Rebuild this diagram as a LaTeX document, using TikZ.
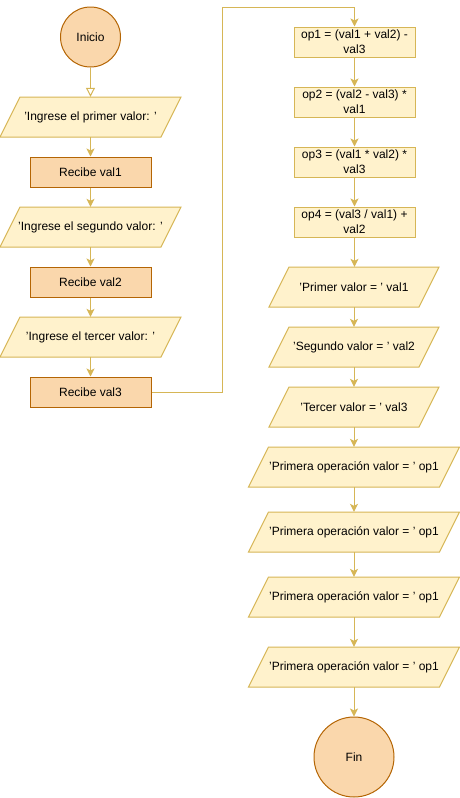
\documentclass[tikz,border=0pt]{standalone}
\usepackage{fontspec}
\setmainfont{Liberation Sans}
\usetikzlibrary{arrows.meta}
\definecolor{ystroke}{HTML}{D6B656}
\definecolor{yfill}{HTML}{FFF2CC}
\definecolor{ostroke}{HTML}{B46504}
\definecolor{ofill}{HTML}{FAD7AC}
\tikzset{
  x=1pt, y=-1pt,
  every node/.style={font=\fontsize{12}{14}\selectfont, text=black},
  txt/.style={inner sep=0pt, align=center},
  orect/.style={draw=ostroke, fill=ofill, line width=1pt, minimum width=121pt, minimum height=30pt, inner sep=0pt},
  yrect/.style={draw=ystroke, fill=yfill, line width=1pt, minimum width=121pt, minimum height=30pt, inner sep=0pt, align=center, font=\fontsize{12}{15}\selectfont},
  ocirc/.style={circle, draw=ostroke, fill=ofill, line width=1pt, inner sep=0pt},
  parastyle/.style={draw=ystroke, fill=yfill, line width=1pt},
  arr/.style={draw=ystroke, line width=1pt, -{Stealth[length=8pt,width=8pt,inset=2pt]}},
  arropen/.style={draw=ystroke, line width=1pt, -{Triangle[open,length=9pt,width=9pt,fill=white]}},
  conn/.style={draw=ystroke, line width=1pt}
}
\newcommand\mypara[5]{%
  \filldraw[parastyle] ({#2-#4/2},{#3+20}) -- ({#2-#4/2+20},{#3-20}) -- ({#2+#4/2},{#3-20}) -- ({#2+#4/2-20},{#3+20}) -- cycle;
  \node[txt, minimum height=40pt, minimum width={#4-40}] (#1) at (#2,#3) {#5};}
\begin{document}
\begin{tikzpicture}
\useasboundingbox (0,0) rectangle (460,798);
% left column
\node[ocirc, minimum size=60pt] (ini) at (90.5,37) {Inicio};
\mypara{p1}{90.5}{117}{181}{'Ingrese el primer valor: '}
\node[orect] (r1) at (90.5,172) {Recibe val1};
\mypara{p2}{90.5}{227}{181}{'Ingrese el segundo valor: '}
\node[orect] (r2) at (90.5,282) {Recibe val2};
\mypara{p3}{90.5}{337}{181}{'Ingrese el tercer valor: '}
\node[orect] (r3) at (90.5,392) {Recibe val3};
% right column
\node[yrect] (op1) at (354.5,42) {op1 = (val1 + val2) -\\val3};
\node[yrect] (op2) at (354.5,102) {op2 = (val2 - val3) *\\val1};
\node[yrect] (op3) at (354.5,162) {op3 = (val1 * val2) *\\val3};
\node[yrect] (op4) at (354.5,222) {op4 = (val3 / val1) +\\val2};
\mypara{q1}{354}{287}{170}{'Primer valor = ' val1}
\mypara{q2}{354}{347}{170}{'Segundo valor = ' val2}
\mypara{q3}{354}{407}{170}{'Tercer valor = ' val3}
\mypara{q4}{354}{467}{211}{'Primera operación valor = ' op1}
\mypara{q5}{354}{532}{211}{'Primera operación valor = ' op1}
\mypara{q6}{354}{597}{211}{'Primera operación valor = ' op1}
\mypara{q7}{354}{667}{211}{'Primera operación valor = ' op1}
\node[ocirc, minimum size=80pt] (fin) at (354,757) {Fin};
% connectors
\draw[arropen] (ini.south) -- (p1.north);
\draw[arr] (p1.south) -- (r1.north);
\draw[arr] (r1.south) -- (p2.north);
\draw[arr] (p2.south) -- (r2.north);
\draw[arr] (r2.south) -- (p3.north);
\draw[arr] (p3.south) -- (r3.north);
\coordinate (c1) at (222,7);
\draw[arr] (r3.east) -| (c1) -| (op1.north);
\draw[arr] (op1.south) -- (op2.north);
\draw[arr] (op2.south) -- (op3.north);
\draw[arr] (op3.south) -- (op4.north);
\draw[arr] (op4.south) -- (op4.south |- q1.north);
\draw[arr] (q1.south) -- (q2.north);
\draw[arr] (q2.south) -- (q3.north);
\draw[arr] (q3.south) -- (q4.north);
\draw[arr] (q4.south) -- (q5.north);
\draw[arr] (q5.south) -- (q6.north);
\draw[arr] (q6.south) -- (q7.north);
\draw[arr] (q7.south) -- (fin.north);
\end{tikzpicture}
\end{document}
